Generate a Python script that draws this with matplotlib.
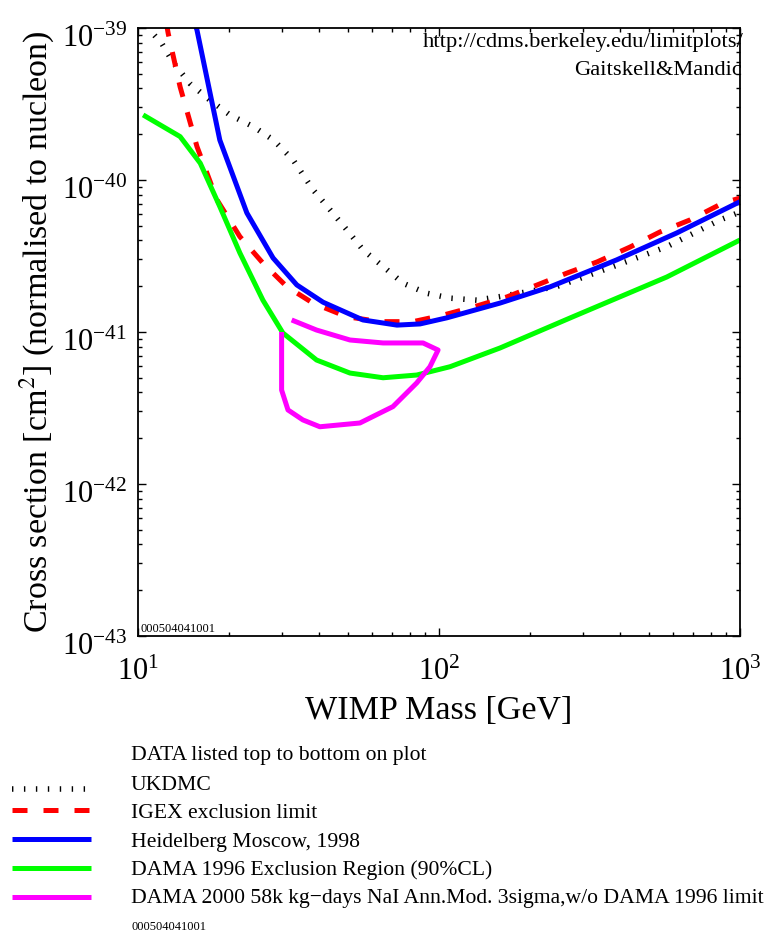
import matplotlib
matplotlib.use('Agg')
import matplotlib.pyplot as plt
from matplotlib.ticker import NullFormatter
from matplotlib.transforms import ScaledTranslation

plt.rcParams['font.family'] = 'Liberation Serif'
plt.rcParams['mathtext.fontset'] = 'stix'

# curves (mass in GeV, cross section in cm^2)
ukdmc_mass = [10.9, 11.2, 12.0, 13.1, 14.9, 17.3, 20.2, 24.2, 28.2, 32.8, 38.2, 43.5, 49.4,
              56.0, 65.3, 76.1, 91.0, 108.8, 133.4, 159.5, 246, 378, 571, 858, 1000]
ukdmc_xsec = [1.05e-39, 9.2e-40, 7.9e-40, 5.9e-40, 4.3e-40, 3.36e-40, 2.68e-40, 2.24e-40,
              1.83e-40, 1.35e-40, 8.6e-41, 6.35e-41, 4.7e-41, 3.46e-41, 2.69e-41, 2.09e-41,
              1.80e-41, 1.67e-41, 1.62e-41, 1.71e-41, 1.99e-41, 2.69e-41, 3.64e-41, 5.46e-41,
              6.15e-41]

igex_mass = [12.4, 12.6, 13.8, 15.7, 18.3, 21.8, 26.0, 31.2, 38.1, 49.4, 63.7, 82, 103,
             130, 168, 212, 266, 335, 431, 542, 682, 878, 1000]
igex_xsec = [1.1e-39, 9.2e-40, 4.1e-40, 1.66e-40, 7.4e-41, 4.24e-41, 2.84e-41, 1.99e-41,
             1.55e-41, 1.26e-41, 1.17e-41, 1.17e-41, 1.29e-41, 1.46e-41, 1.70e-41, 2.04e-41,
             2.44e-41, 2.89e-41, 3.62e-41, 4.55e-41, 5.46e-41, 7.06e-41, 7.6e-41]

hm_mass = [15.5, 15.7, 18.7, 23.0, 28.1, 33.7, 41.2, 55.9, 72.5, 86.5, 106.3, 159.5,
           233.7, 389, 616, 1000]
hm_xsec = [1.05e-39, 9.7e-40, 1.83e-40, 6.07e-41, 3.07e-41, 2.04e-41, 1.57e-41, 1.2e-41,
           1.11e-41, 1.13e-41, 1.24e-41, 1.55e-41, 1.98e-41, 2.98e-41, 4.48e-41, 7.2e-41]

dama96_mass = [10.4, 13.8, 16.1, 18.7, 21.8, 26.0, 30.3, 39.2, 50.6, 65.2, 84.3, 108.8,
               159.5, 278.6, 571, 1000]
dama96_xsec = [2.68e-40, 1.93e-40, 1.29e-40, 6.68e-41, 3.31e-41, 1.62e-41, 9.85e-42,
               6.54e-42, 5.37e-42, 5.0e-42, 5.21e-42, 5.91e-42, 7.85e-42, 1.26e-41, 2.30e-41,
               4.03e-41]

dama00_mass = [32.4, 39.2, 50.6, 65.2, 88.5, 99.3, 93.3, 84.3, 70.3, 54.6, 40.2, 35.3,
               31.5, 30.0, 30.0]
dama00_xsec = [1.2e-41, 1.03e-41, 8.86e-42, 8.47e-42, 8.47e-42, 7.61e-42, 5.91e-42,
               4.62e-42, 3.23e-42, 2.52e-42, 2.38e-42, 2.64e-42, 3.07e-42, 4.15e-42, 1.0e-41]

labels = ['UKDMC', 'IGEX exclusion limit', 'Heidelberg Moscow, 1998',
          'DAMA 1996 Exclusion Region (90%CL)',
          'DAMA 2000 58k kg\u2212days NaI Ann.Mod. 3sigma,w/o DAMA 1996 limit']

styles = [
    dict(color='black', lw=4.0, dashes=(0.25, 1.9), dash_capstyle='butt'),
    dict(color='#ff0000', lw=3.6, dashes=(3.0, 3.2), dash_capstyle='butt'),
    dict(color='#0000ff', lw=3.6),
    dict(color='#00ff00', lw=3.6),
    dict(color='#ff00ff', lw=3.6),
]

W, H = 769, 935
fig = plt.figure(figsize=(W / 100, H / 100), dpi=100)
ax = fig.add_axes([138 / W, 1 - 636 / H, 602 / W, 608 / H])

series = [(ukdmc_mass, ukdmc_xsec), (igex_mass, igex_xsec), (hm_mass, hm_xsec),
          (dama96_mass, dama96_xsec), (dama00_mass, dama00_xsec)]
for (m, s), st in zip(series, styles):
    ax.plot(m, s, solid_capstyle='butt', zorder=2, **st)

ax.set_xscale('log')
ax.set_yscale('log')
ax.set_xlim(10, 1000)
ax.set_ylim(1e-43, 1e-39)
ax.xaxis.set_minor_formatter(NullFormatter())
ax.yaxis.set_minor_formatter(NullFormatter())
ax.tick_params(which='both', direction='in', top=True, right=True, width=1.0)
ax.tick_params(which='major', length=6, labelsize=22)
ax.tick_params(axis='y', which='major', pad=8)
ax.tick_params(axis='x', which='major', pad=16)
ax.tick_params(which='minor', length=3)
for sp in ax.spines.values():
    sp.set_linewidth(1.3)

# y tick labels sit a little lower than matplotlib centres them
shift = ScaledTranslation(0, -8 / 100, fig.dpi_scale_trans)
for t in ax.yaxis.get_major_ticks():
    t.label1.set_transform(t.label1.get_transform() + shift)

ax.set_xlabel('WIMP Mass [GeV]', fontsize=24.5, labelpad=6)
ax.set_ylabel('Cross section [cm$^2$] (normalised to nucleon)', fontsize=24.5, labelpad=4)

ax.text(1.006, 0.969, 'http://cdms.berkeley.edu/limitplots/', transform=ax.transAxes,
        ha='right', va='baseline', fontsize=16.2, zorder=1)
ax.text(1.004, 0.923, 'Gaitskell&Mandic', transform=ax.transAxes,
        ha='right', va='baseline', fontsize=16.2, zorder=1)
ax.text(0.004, 0.007, '000504041001', transform=ax.transAxes,
        ha='left', va='baseline', fontsize=9)

# legend block under the plot, drawn in pixel units
lax = fig.add_axes([0, 0, 1, 1])
lax.set_xlim(0, W)
lax.set_ylim(H, 0)
lax.axis('off')
lax.text(131, 760, 'DATA listed top to bottom on plot', fontsize=15.6, va='baseline')
line_y = [789, 810, 839, 868, 897]
text_y = [790, 818, 847, 875, 903]
for ly, ty, lab, st in zip(line_y, text_y, labels, styles):
    lax.plot([12, 91], [ly, ly], solid_capstyle='butt', **st)
    lax.text(131, ty, lab, fontsize=15.6, va='baseline')
lax.text(131, 930, '000504041001', fontsize=9, va='baseline')

fig.savefig('out.png', dpi=100)
